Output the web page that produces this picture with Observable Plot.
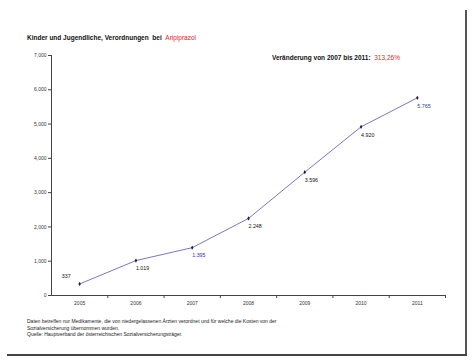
<!DOCTYPE html>
<html><head><meta charset="utf-8">
<script src="https://cdn.jsdelivr.net/npm/d3@7"></script>
<script src="https://cdn.jsdelivr.net/npm/@observablehq/plot@0.6"></script>
<style>
body{margin:0;background:#fff;font-family:"Liberation Sans",Arial,sans-serif;}
#wrap{position:relative;width:474px;height:361px;overflow:hidden;}
#wrap svg{position:absolute;left:0;top:0;}
.t{position:absolute;white-space:nowrap;color:#111;}
#title{left:27px;top:34px;font-size:6.5px;font-weight:bold;}
#sub{left:272px;top:54px;font-size:6.5px;font-weight:bold;}
.red{color:#e8222a;font-weight:normal;}
#foot{left:27px;top:318px;font-size:5px;line-height:6.5px;color:#222;}
#rb{position:absolute;left:465px;top:10px;width:2px;height:346px;background:#555;}
#bb{position:absolute;left:7px;top:354px;width:460px;height:2px;background:#444;}
</style>
</head><body>
<div id="wrap"></div>
<script>
const years = [2005, 2006, 2007, 2008, 2009, 2010, 2011];
const values = [337, 1019, 1395, 2248, 3596, 4920, 5765];
const blueLabelYears = [2007, 2011];
const yTicks = [0, 1000, 2000, 3000, 4000, 5000, 6000, 7000];

const data = years.map((y, i) => ({year: y, value: values[i]}));
const boundaries = years.map(y => y + 0.5);
const deFmt = v => d3.format(",")(v).replace(/,/g, ".");

const first = data.filter((d, i) => i === 0);
const restBlack = data.filter((d, i) => i > 0 && !blueLabelYears.includes(d.year));
const restBlue = data.filter((d, i) => i > 0 && blueLabelYears.includes(d.year));

const chart = Plot.plot({
  width: 474, height: 361,
  marginLeft: 51, marginRight: 29, marginTop: 55, marginBottom: 66,
  style: {fontFamily: "Liberation Sans, Arial, sans-serif", background: "transparent"},
  x: {domain: [2004.5, 2011.5], axis: null, label: null},
  y: {domain: [0, 7000], axis: null, label: null},
  marks: [
    Plot.axisY({ticks: yTicks, tickFormat: d3.format(","), tickSize: 3, tickPadding: 2, fontSize: 5, fill: "#333", stroke: "#444", label: null}),
    Plot.axisX({ticks: years, tickFormat: d => String(d), tickSize: 0, tickPadding: 6, fontSize: 5, fill: "#333", label: null}),
    Plot.axisX({ticks: boundaries, tickFormat: () => "", tickSize: 3, stroke: "#444", label: null}),
    Plot.ruleY([0], {stroke: "#444"}),
    Plot.ruleX([2004.5], {stroke: "#444"}),
    Plot.line(data, {x: "year", y: "value", stroke: "#7a78c0", strokeWidth: 1}),
    Plot.dot(data, {x: "year", y: "value", symbol: "diamond", r: 1.3, fill: "#1a1a4a", stroke: null}),
    Plot.text(first, {x: "year", y: "value", text: d => deFmt(d.value), fill: "#111", textAnchor: "end", dx: -9, dy: -8, fontSize: 5.3}),
    Plot.text(restBlack, {x: "year", y: "value", text: d => deFmt(d.value), fill: "#111", textAnchor: "start", dx: 0, dy: 8, fontSize: 5.3}),
    Plot.text(restBlue, {x: "year", y: "value", text: d => deFmt(d.value), fill: "#2a3aa8", textAnchor: "start", dx: 0, dy: 8, fontSize: 5.3})
  ]
});
const wrap = document.getElementById("wrap");
wrap.appendChild(chart);
wrap.insertAdjacentHTML("beforeend",
  '<div class="t" id="title">Kinder und Jugendliche, Verordnungen&nbsp; bei&nbsp; <span class="red">Aripiprazol</span></div>' +
  '<div class="t" id="sub">Veränderung von 2007 bis 2011:&nbsp; <span class="red">313,26%</span></div>' +
  '<div class="t" id="foot">Daten betreffen nur Medikamente, die von niedergelassenen Ärzten verordnet und für welche die Kosten von der<br>Sozialversicherung übernommen wurden.<br>Quelle: Hauptverband der österreichischen Sozialversicherungsträger.</div>' +
  '<div id="rb"></div><div id="bb"></div>');
</script>
</body></html>
